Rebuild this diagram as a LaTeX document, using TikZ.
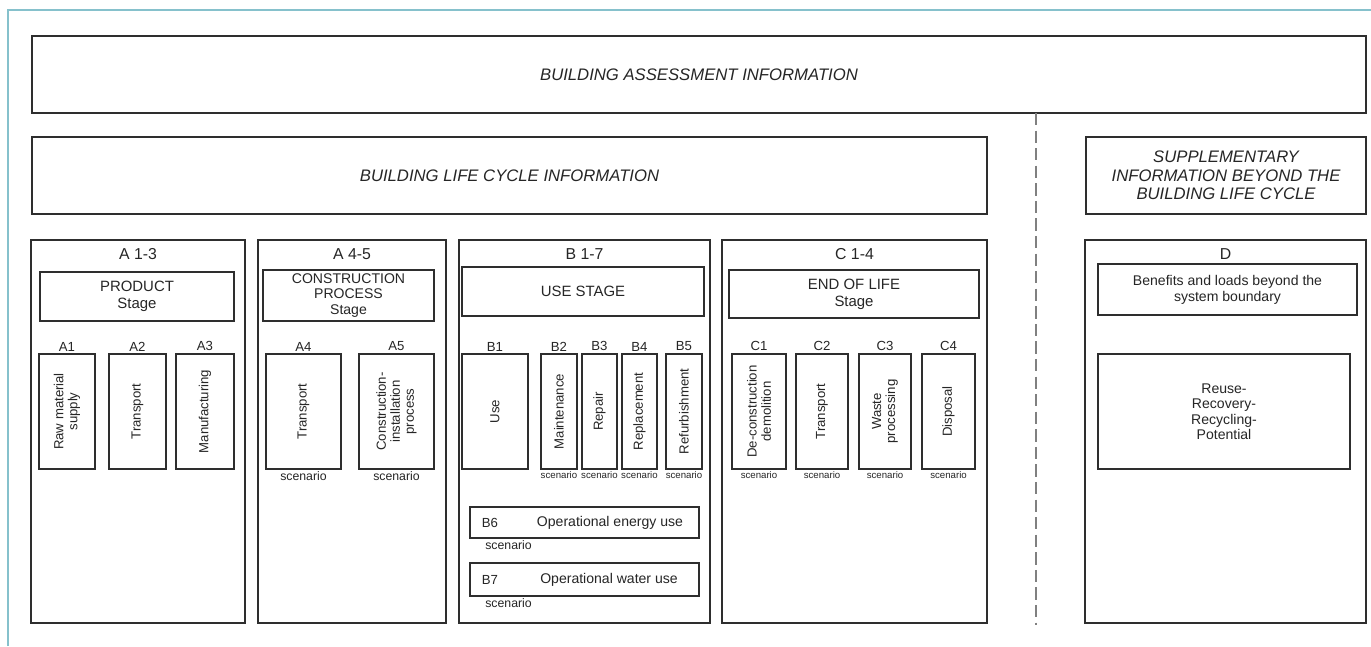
\documentclass[tikz,border=0pt]{standalone}
\usepackage{fontspec}
\setmainfont{Liberation Sans}
\usepackage{xcolor}
\usetikzlibrary{positioning}
\definecolor{framecol}{HTML}{86C1CC}
\definecolor{linegray}{HTML}{2E2E2E}
\definecolor{textgray}{HTML}{262626}

\begin{document}
\begin{tikzpicture}[
    x=0.02cm, y=-0.02cm,
    every node/.style={text=textgray},
    bigbox/.style={
        draw=linegray,
        line width=1pt,
        minimum height=1.54cm,
        align=center,
        font=\fontsize{9.5}{10.5}\selectfont\itshape
    },
    column/.style={
        draw=linegray,
        line width=1pt,
        minimum height=7.66cm
    },
    collabel/.style={font=\fontsize{9}{10}\selectfont},
    stagebox/.style={
        draw=linegray,
        line width=1pt,
        align=center,
        font=\fontsize{8.5}{9.5}\selectfont
    },
    modbox/.style={
        draw=linegray,
        line width=1pt,
        minimum height=2.3cm
    },
    modtext/.style={rotate=90, align=center, font=\fontsize{7.5}{8}\selectfont},
    modlabel/.style={font=\fontsize{7.5}{8}\selectfont, inner sep=1pt},
    scen/.style={font=\fontsize{5.5}{6.5}\selectfont, inner sep=1pt},
    bigscen/.style={font=\fontsize{7}{8}\selectfont, inner sep=1pt},
    longbox/.style={
        draw=linegray,
        line width=1pt,
        minimum width=4.58cm,
        font=\fontsize{8}{9}\selectfont
    }
]
    \useasboundingbox[fill=white] (0,0) rectangle (1371,646);
    \draw[framecol, line width=1pt] (8,646) -- (8,10) -- (1371,10);

    % headers
    \node[bigbox, minimum width=26.68cm] (assess) at (699,74.5)
        {BUILDING ASSESSMENT INFORMATION};
    \node[bigbox, minimum width=19.1cm] (lifecycle) at (509.5,175.5)
        {BUILDING LIFE CYCLE INFORMATION};
    \node[bigbox, minimum width=5.6cm] (suppl) at (1226,175.5)
        {SUPPLEMENTARY\\INFORMATION BEYOND THE\\BUILDING LIFE CYCLE};

    \coordinate (dashtop) at (1036,113);
    \coordinate (dashbot) at (1036,625);
    \draw[gray, line width=1pt, dash pattern=on 7pt off 3pt] (dashtop) -- (dashbot);

    % columns
    \node[column, minimum width=4.28cm] (a13) at (138,431.5) {};
    \node[column, minimum width=3.76cm] (a45) at (352,431.5) {};
    \node[column, minimum width=5.02cm] (b17) at (584.5,431.5) {};
    \node[column, minimum width=5.3cm] (c14) at (854.5,431.5) {};
    \node[column, minimum width=5.62cm] (dcol) at (1225.5,431.5) {};

    \node[collabel] (a13lbl) at (138,254) {A 1-3};
    \node[collabel] (a45lbl) at (352,254) {A 4-5};
    \node[collabel] (b17lbl) at (584.5,254) {B 1-7};
    \node[collabel] (c14lbl) at (854.5,254) {C 1-4};
    \node[collabel] (dlbl) at (1225.5,254) {D};

    % stages
    \node[stagebox, minimum width=3.88cm, minimum height=0.98cm] (product) at (137,296.5)
        {PRODUCT\\Stage};
    \node[stagebox, minimum width=3.42cm, minimum height=1.02cm, inner sep=1pt, font=\fontsize{8}{8.6}\selectfont] (constr) at (348.5,295.5)
        {CONSTRUCTION\\PROCESS\\Stage};
    \node[stagebox, minimum width=4.84cm, minimum height=0.98cm] (usestage) at (583,291.5)
        {USE STAGE};
    \node[stagebox, minimum width=5cm, minimum height=0.96cm] (eol) at (854,294)
        {END OF LIFE\\Stage};
    \node[stagebox, minimum width=5.18cm, minimum height=1.02cm, font=\fontsize{8}{9}\selectfont] (benefits) at (1227.5,289.5)
        {Benefits and loads beyond the\\system boundary};

    % modules
    \node[modbox, minimum width=1.12cm, label={[modlabel]above:A1}] (a1) at (67,411.5) {};
    \node[modbox, minimum width=1.14cm, label={[modlabel]above:A2}] (a2) at (137.5,411.5) {};
    \node[modbox, minimum width=1.16cm, label={[modlabel]above:A3}] (a3) at (205,411.5) {};
    \node[modbox, minimum width=1.5cm, label={[modlabel]above:A4}, label={[bigscen]below:scenario}] (a4) at (303.5,411.5) {};
    \node[modbox, minimum width=1.5cm, label={[modlabel]above:A5}, label={[bigscen]below:scenario}] (a5) at (396.5,411.5) {};
    \node[modbox, minimum width=1.32cm, label={[modlabel]above:B1}] (b1) at (495,411.5) {};
    \node[modbox, minimum width=0.72cm, label={[modlabel]above:B2}, label={[scen]below:scenario}] (b2) at (559,411.5) {};
    \node[modbox, minimum width=0.7cm, label={[modlabel]above:B3}, label={[scen]below:scenario}] (b3) at (599.5,411.5) {};
    \node[modbox, minimum width=0.7cm, label={[modlabel]above:B4}, label={[scen]below:scenario}] (b4) at (639.5,411.5) {};
    \node[modbox, minimum width=0.72cm, label={[modlabel]above:B5}, label={[scen]below:scenario}] (b5) at (684,411.5) {};
    \node[modbox, minimum width=1.08cm, label={[modlabel]above:C1}, label={[scen]below:scenario}] (c1) at (759,411.5) {};
    \node[modbox, minimum width=1.04cm, label={[modlabel]above:C2}, label={[scen]below:scenario}] (c2) at (822,411.5) {};
    \node[modbox, minimum width=1.04cm, label={[modlabel]above:C3}, label={[scen]below:scenario}] (c3) at (885,411.5) {};
    \node[modbox, minimum width=1.06cm, label={[modlabel]above:C4}, label={[scen]below:scenario}] (c4) at (948.5,411.5) {};
    \node[modbox, minimum width=5.04cm, align=center, font=\fontsize{8}{8.8}\selectfont] (potential) at (1224,411.5)
        {Reuse-\\Recovery-\\Recycling-\\Potential};

    \node[modtext] (a1t) at (a1) {Raw material\\supply};
    \node[modtext] (a2t) at (a2) {Transport};
    \node[modtext] (a3t) at (a3) {Manufacturing};
    \node[modtext] (a4t) at (a4) {Transport};
    \node[modtext] (a5t) at (a5) {Construction-\\installation\\process};
    \node[modtext] (b1t) at (b1) {Use};
    \node[modtext] (b2t) at (b2) {Maintenance};
    \node[modtext] (b3t) at (b3) {Repair};
    \node[modtext] (b4t) at (b4) {Replacement};
    \node[modtext] (b5t) at (b5) {Refurbishment};
    \node[modtext] (c1t) at (c1) {De-construction\\demolition};
    \node[modtext] (c2t) at (c2) {Transport};
    \node[modtext] (c3t) at (c3) {Waste\\processing};
    \node[modtext] (c4t) at (c4) {Disposal};

    % operational use
    \node[longbox, minimum height=0.62cm] (b6) at (584.5,522.5) {};
    \node[longbox, minimum height=0.66cm] (b7) at (584.5,579.5) {};
    \node[modlabel, anchor=west] (b6id) at ([xshift=6pt]b6.west) {B6};
    \node[modlabel, anchor=west] (b7id) at ([xshift=6pt]b7.west) {B7};
    \node[font=\fontsize{8}{9}\selectfont] (b6t) at (610,522.5) {Operational energy use};
    \node[font=\fontsize{8}{9}\selectfont] (b7t) at (609,579.5) {Operational water use};
    \node[bigscen, anchor=north west] (b6s) at ([xshift=8pt]b6.south west) {scenario};
    \node[bigscen, anchor=north west] (b7s) at ([xshift=8pt]b7.south west) {scenario};
\end{tikzpicture}
\end{document}
